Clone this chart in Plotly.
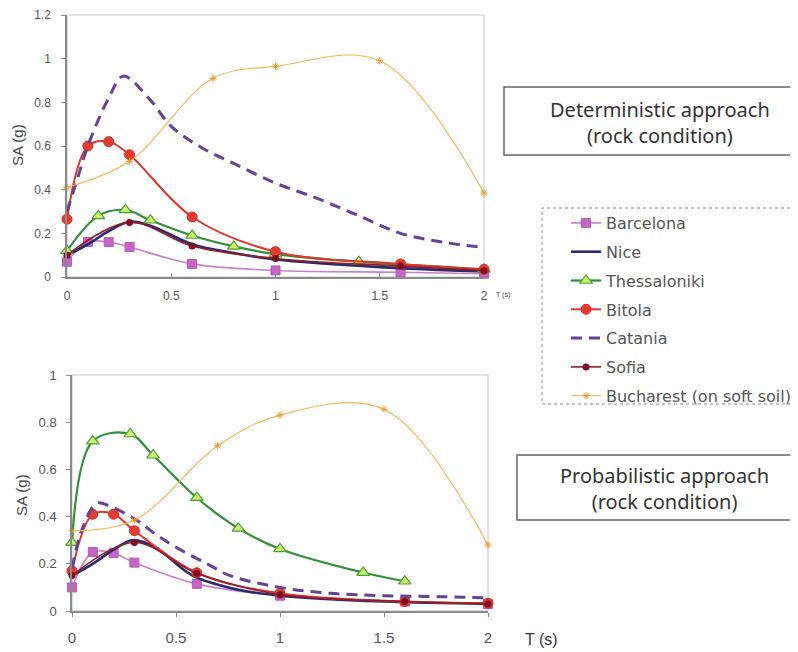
import plotly.graph_objects as go

# page offset of the figure inside the browser window (default body margin)
OFF = 8
W, H = 790, 644

# ---------------- Deterministic approach (top) ----------------
det_barcelona_T = [0, 0.1, 0.2, 0.3, 0.6, 1.0, 1.6, 2.0]
det_barcelona_SA = [0.07, 0.16, 0.16, 0.137, 0.06, 0.03, 0.022, 0.015]

det_nice_T = [0, 0.1, 0.2, 0.3, 0.4, 0.6, 0.8, 1.0, 1.5, 2.0]
det_nice_SA = [0.10, 0.15, 0.21, 0.253, 0.235, 0.15, 0.11, 0.08, 0.045, 0.025]

det_thess_T = [0, 0.15, 0.28, 0.4, 0.6, 0.8, 1.0, 1.4, 2.0]
det_thess_SA = [0.12, 0.28, 0.307, 0.26, 0.19, 0.14, 0.105, 0.07, 0.035]

det_bitola_T = [0, 0.1, 0.2, 0.3, 0.6, 1.0, 1.6, 2.0]
det_bitola_SA = [0.265, 0.60, 0.62, 0.56, 0.275, 0.116, 0.06, 0.035]

det_catania_T = [0, 0.05, 0.1, 0.2, 0.27, 0.4, 0.5, 0.65, 0.8, 1.0, 1.2, 1.4, 1.6, 1.8, 2.0]
det_catania_SA = [0.30, 0.45, 0.60, 0.82, 0.92, 0.81, 0.69, 0.59, 0.52, 0.43, 0.36, 0.28, 0.20, 0.16, 0.135]

det_sofia_T = [0, 0.3, 0.6, 1.0, 1.6, 2.0]
det_sofia_SA = [0.10, 0.25, 0.142, 0.085, 0.05, 0.03]

det_buch_T = [0, 0.3, 0.7, 1.0, 1.5, 2.0]
det_buch_SA = [0.41, 0.53, 0.91, 0.965, 0.99, 0.385]

# ---------------- Probabilistic approach (bottom) ----------------
prob_barcelona_T = [0, 0.1, 0.2, 0.3, 0.6, 1.0, 1.6, 2.0]
prob_barcelona_SA = [0.10, 0.25, 0.245, 0.205, 0.115, 0.065, 0.04, 0.03]

prob_nice_T = [0, 0.1, 0.2, 0.29, 0.4, 0.58, 0.8, 1.0, 1.5, 2.0]
prob_nice_SA = [0.15, 0.20, 0.26, 0.30, 0.27, 0.15, 0.09, 0.065, 0.04, 0.03]

prob_thess_T = [0, 0.1, 0.28, 0.39, 0.6, 0.8, 1.0, 1.4, 1.6]
prob_thess_SA = [0.29, 0.72, 0.75, 0.66, 0.48, 0.35, 0.263, 0.163, 0.126]

prob_bitola_T = [0, 0.1, 0.2, 0.3, 0.6, 1.0, 1.6, 2.0]
prob_bitola_SA = [0.17, 0.41, 0.41, 0.34, 0.162, 0.075, 0.04, 0.033]

prob_catania_T = [0, 0.05, 0.12, 0.18, 0.31, 0.41, 0.52, 0.65, 0.76, 1.0, 1.24, 1.5, 1.8, 2.0]
prob_catania_SA = [0.18, 0.35, 0.457, 0.445, 0.385, 0.32, 0.26, 0.20, 0.15, 0.10, 0.075, 0.065, 0.06, 0.055]

prob_sofia_T = [0, 0.3, 0.6, 1.0, 1.6, 2.0]
prob_sofia_SA = [0.15, 0.29, 0.16, 0.07, 0.04, 0.03]

prob_buch_T = [0, 0.3, 0.7, 1.0, 1.5, 2.0]
prob_buch_SA = [0.34, 0.385, 0.70, 0.83, 0.855, 0.28]

names = ["Barcelona", "Nice", "Thessaloniki", "Bitola", "Catania", "Sofia",
         "Bucharest (on soft soil)"]

styles = {
    "Barcelona": dict(mode="lines+markers",
                      line=dict(color="#C97FC9", width=1.6),
                      marker=dict(symbol="square", size=9, color="#C467C4",
                                  line=dict(color="#B85AB8", width=1))),
    "Nice": dict(mode="lines", line=dict(color="#2E2A6E", width=2.6)),
    "Thessaloniki": dict(mode="lines+markers",
                         line=dict(color="#2F8F3A", width=2.2),
                         marker=dict(symbol="triangle-up", size=11, color="#CDEF6A",
                                     line=dict(color="#4A9E3A", width=1.2))),
    "Bitola": dict(mode="lines+markers",
                   line=dict(color="#E0352B", width=2),
                   marker=dict(symbol="circle", size=10, color="#E53B2E",
                               line=dict(color="#D0302A", width=1))),
    "Catania": dict(mode="lines",
                    line=dict(color="#634396", width=3, dash="11px,7px")),
    "Sofia": dict(mode="lines+markers",
                  line=dict(color="#8E1E2C", width=1.6),
                  marker=dict(symbol="circle", size=7, color="#7A1020")),
    "Bucharest (on soft soil)": dict(mode="lines+markers",
                                     line=dict(color="#F6B453", width=1.1),
                                     marker=dict(symbol="asterisk-open", size=6,
                                                 color="#E89A30",
                                                 line=dict(color="#E89A30", width=1))),
}

det = {
    "Barcelona": (det_barcelona_T, det_barcelona_SA),
    "Nice": (det_nice_T, det_nice_SA),
    "Thessaloniki": (det_thess_T, det_thess_SA),
    "Bitola": (det_bitola_T, det_bitola_SA),
    "Catania": (det_catania_T, det_catania_SA),
    "Sofia": (det_sofia_T, det_sofia_SA),
    "Bucharest (on soft soil)": (det_buch_T, det_buch_SA),
}
prob = {
    "Barcelona": (prob_barcelona_T, prob_barcelona_SA),
    "Nice": (prob_nice_T, prob_nice_SA),
    "Thessaloniki": (prob_thess_T, prob_thess_SA),
    "Bitola": (prob_bitola_T, prob_bitola_SA),
    "Catania": (prob_catania_T, prob_catania_SA),
    "Sofia": (prob_sofia_T, prob_sofia_SA),
    "Bucharest (on soft soil)": (prob_buch_T, prob_buch_SA),
}


def px(x):  # window pixel -> paper x
    return (x - OFF) / W


def py(y):  # window pixel -> paper y
    return 1 - (y - OFF) / H


fig = go.Figure()
for data, xa, ya, show in [(det, "x", "y", True), (prob, "x2", "y2", False)]:
    for n in names:
        t, sa = data[n]
        st = styles[n]
        ln = dict(st["line"])
        ln["shape"] = "spline"
        ln["smoothing"] = 1.0
        kw = dict(mode=st["mode"], line=ln)
        if "marker" in st:
            kw["marker"] = st["marker"]
        fig.add_trace(go.Scatter(x=t, y=sa, name=n, xaxis=xa, yaxis=ya,
                                 showlegend=show, legendgroup=n,
                                 cliponaxis=False, **kw))

axis_common = dict(showgrid=False, zeroline=False, showline=True, automargin=False,
                   linecolor="#8a8a8a", linewidth=1.5, ticklen=4, tickcolor="#8a8a8a")

fig.update_layout(
    width=W, height=H,
    margin=dict(l=0, r=0, t=0, b=0),
    paper_bgcolor="white", plot_bgcolor="white",
    xaxis=dict(domain=[px(67), px(484)], range=[0, 2], dtick=0.5, anchor="y",
               ticks="inside", ticklabelstandoff=7,
               tickfont=dict(family="Liberation Sans", size=12, color="#555"),
               **axis_common),
    yaxis=dict(domain=[py(277), py(15)], range=[0, 1.2], dtick=0.2,
               anchor="x", ticks="outside", ticklabelstandoff=8,
               tickfont=dict(family="Liberation Sans", size=12, color="#555"),
               **axis_common),
    xaxis2=dict(domain=[px(72), px(488)], range=[0, 2], dtick=0.5, anchor="y2",
                ticks="outside", ticklabelstandoff=8,
                tickfont=dict(family="Liberation Sans", size=15, color="#555"),
                **axis_common),
    yaxis2=dict(domain=[py(611), py(375)], range=[0, 1], dtick=0.2,
                anchor="x2", ticks="outside", ticklabelstandoff=7,
                tickfont=dict(family="Liberation Sans", size=13, color="#555"),
                **axis_common),
    legend=dict(x=px(566), y=py(206), xanchor="left", yanchor="top",
                bgcolor="rgba(0,0,0,0)", borderwidth=0,
                font=dict(family="DejaVu Sans", size=16, color="#555"),
                tracegroupgap=5, itemwidth=30),
)

shapes = []
# light frame around plot areas
for xr, yr in [("x domain", "y domain"), ("x2 domain", "y2 domain")]:
    shapes.append(dict(type="rect", xref=xr, yref=yr, x0=0, x1=1, y0=0, y1=1,
                       line=dict(color="#c8c8c8", width=1), layer="below"))
# legend dashed border
shapes.append(dict(type="rect", xref="paper", yref="paper",
                   x0=px(542), x1=px(796), y0=py(404), y1=py(208),
                   line=dict(color="#8a8a8a", width=1, dash="dot")))
# text boxes
shapes.append(dict(type="rect", xref="paper", yref="paper",
                   x0=px(504), x1=px(796), y0=py(155), y1=py(87),
                   line=dict(color="#666", width=1.5)))
shapes.append(dict(type="rect", xref="paper", yref="paper",
                   x0=px(517), x1=px(796), y0=py(520), y1=py(455),
                   line=dict(color="#666", width=1.5)))
fig.update_layout(shapes=shapes)

ann = [
    dict(text="Deterministic approach<br>(rock condition)", x=px(660), y=py(122),
         font=dict(family="Noto Sans", size=20, color="#333")),
    dict(text="Probabilistic approach<br>(rock condition)", x=px(664), y=py(488),
         font=dict(family="Noto Sans", size=20, color="#333")),
    dict(text="SA (g)", x=px(17), y=py(145), textangle=-90,
         font=dict(family="Liberation Sans", size=15, color="#444")),
    dict(text="SA (g)", x=px(21), y=py(495), textangle=-90,
         font=dict(family="Liberation Sans", size=15, color="#444")),
    dict(text="T (s)", x=px(503), y=py(295),
         font=dict(family="Liberation Sans", size=7, color="#444")),
    dict(text="T (s)", x=px(541), y=py(639),
         font=dict(family="Liberation Sans", size=16, color="#333")),
]
for a in ann:
    a.update(xref="paper", yref="paper", showarrow=False,
             xanchor="center", yanchor="middle")
fig.update_layout(annotations=ann)

fig.write_html("out.html")
